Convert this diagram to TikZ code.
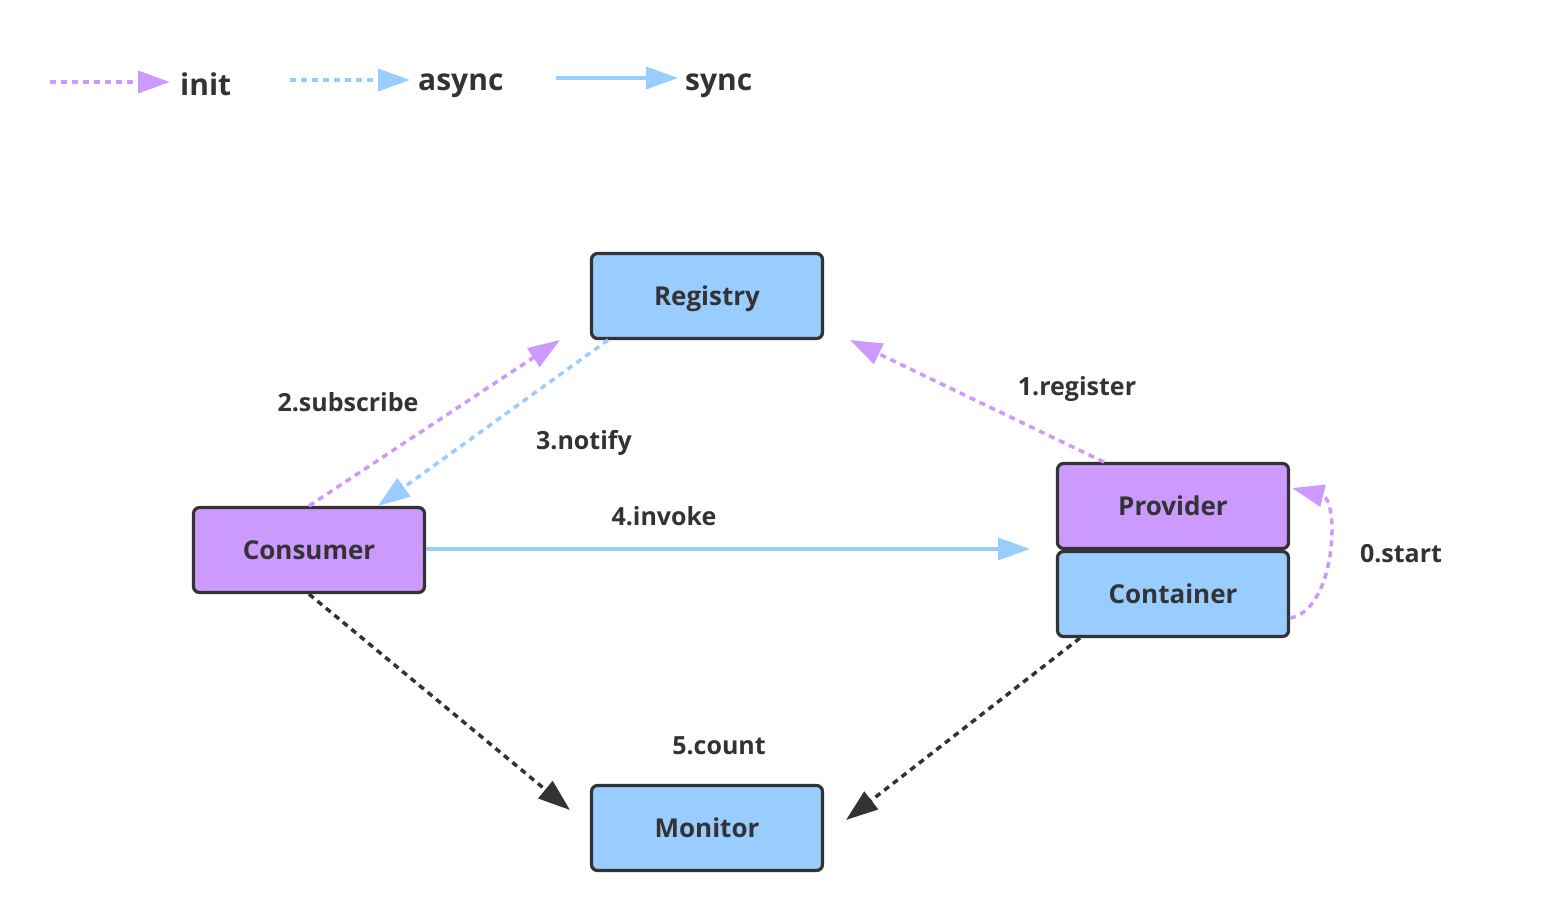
\documentclass[tikz,border=0pt]{standalone}
\usepackage{fontspec}
\setmainfont{Open Sans}
\usetikzlibrary{arrows.meta}
\definecolor{pur}{HTML}{CC99FF}
\definecolor{blu}{HTML}{99CCFF}
\definecolor{dk}{HTML}{333333}
\begin{document}
\begin{tikzpicture}[x=1pt,y=-1pt,
  box/.style={draw=dk,line width=3.2pt,rounded corners=6pt,minimum width=231pt,minimum height=85pt,inner sep=0pt,font=\fontsize{26}{30}\selectfont\bfseries,text=dk,text height=18.5pt,text depth=0pt},
  lbl/.style={font=\fontsize{25}{30}\selectfont\bfseries,text=dk,inner sep=0pt,text height=18pt,text depth=0pt},
  leg/.style={font=\fontsize{30}{36}\selectfont\bfseries,text=dk,inner sep=0pt,anchor=base west},
  tip/.style={-{Triangle[length=32pt,width=22pt]}},
  dotl/.style={line width=3.5pt,dash pattern=on 6pt off 5pt},
  initline/.style={draw=pur,dotl,tip},
  asyncline/.style={draw=blu,dotl,tip},
  syncline/.style={draw=blu,line width=3.5pt,tip},
  countline/.style={draw=dk,dotl,tip}]
\useasboundingbox (0,0) rectangle (1546,922);
% legend
\coordinate (i1) at (50,82); \coordinate (i2) at (170,82);
\draw[initline] (i1) -- (i2);
\node[leg] (linit) at (180,95) {init};
\coordinate (a1) at (290,80); \coordinate (a2) at (410,80);
\draw[asyncline] (a1) -- (a2);
\node[leg] (lasync) at (418,90) {async};
\coordinate (s1) at (556,78); \coordinate (s2) at (678,78);
\draw[syncline] (s1) -- (s2);
\node[leg] (lsync) at (685,90) {sync};
% boxes
\node[box,fill=blu] (registry) at (707,296) {Registry};
\node[box,fill=pur] (consumer) at (309,550) {Consumer};
\node[box,fill=pur] (provider) at (1173,506) {Provider};
\node[box,fill=blu] (container) at (1173,594) {Container};
\node[box,fill=blu] (monitor) at (707,828) {Monitor};
% helper coordinates
\coordinate (subEnd) at (560,340);
\coordinate (notStart) at (608,340);
\coordinate (notEnd) at (378,506);
\coordinate (regEnd) at (850,340);
\coordinate (regStart) at (1104,462);
\coordinate (invEnd) at (1030,549);
\coordinate (stStart) at (1290,618);
\coordinate (stEnd) at (1292,488);
\coordinate (c1End) at (570,810);
\coordinate (c2Start) at (1080,638);
\coordinate (c2End) at (846,820);
% connectors
\draw[initline] (consumer.north) -- (subEnd);
\draw[asyncline] (notStart) -- (notEnd);
\draw[initline] (regStart) -- (regEnd);
\draw[syncline] (consumer.east |- invEnd) -- (invEnd);
\draw[initline] (stStart) .. controls (1336,610) and (1340,500) .. (stEnd);
\draw[countline] (consumer.south) -- (c1End);
\draw[countline] (c2Start) -- (c2End);
% labels
\node[lbl] (tsub) at (348,402) {2.subscribe};
\node[lbl] (tnot) at (584,440) {3.notify};
\node[lbl] (treg) at (1077,386) {1.register};
\node[lbl] (tinv) at (664,516) {4.invoke};
\node[lbl] (tst) at (1401,553) {0.start};
\node[lbl] (tcnt) at (719,745) {5.count};
\end{tikzpicture}
\end{document}
